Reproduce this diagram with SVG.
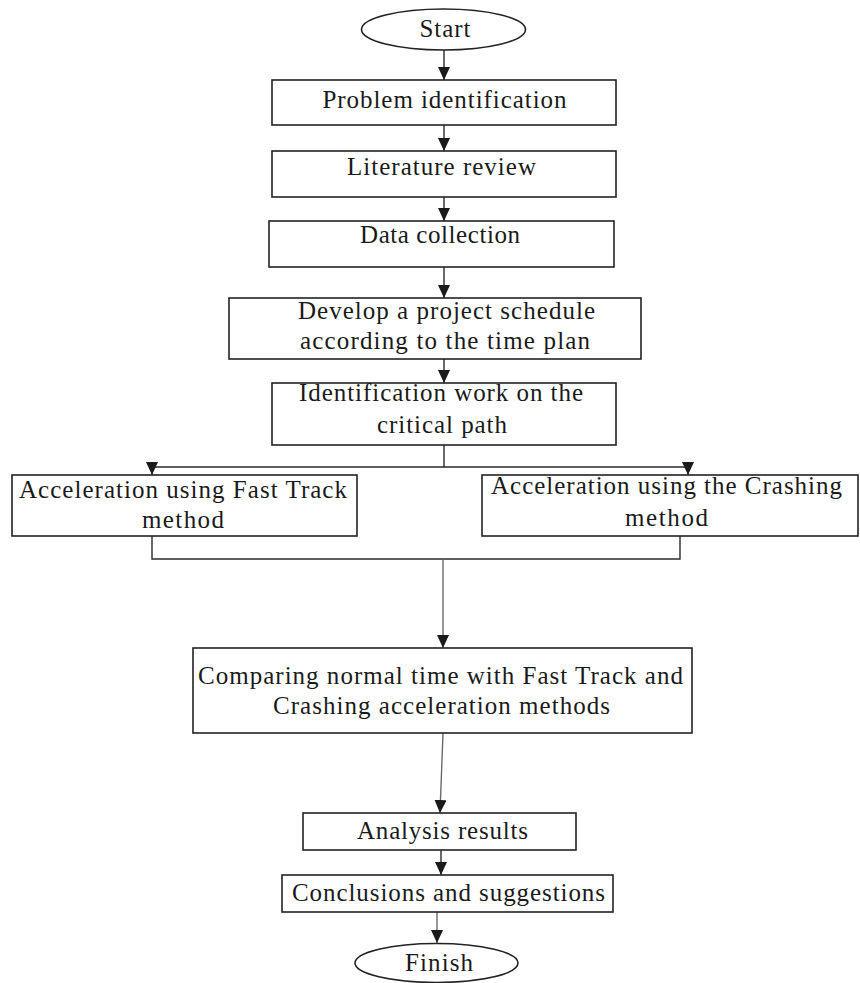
<svg xmlns="http://www.w3.org/2000/svg" width="860" height="983" viewBox="0 0 860 983">
<style>
.box{fill:#fff;stroke:#222;stroke-width:1.6}
.t{font-size:25px;fill:#1a1a1a;text-anchor:middle}
.c{fill:none;stroke:#2a2a2a;stroke-width:1.4}
.g{fill:none;stroke:#6a6a6a;stroke-width:1.4}
</style>
<defs>
<marker id="ah" viewBox="0 0 13 12" refX="13" refY="6" markerWidth="13" markerHeight="12" markerUnits="userSpaceOnUse" orient="auto">
<path d="M0,0 L13,6 L0,12 z" fill="#1a1a1a"/>
</marker>
</defs>
<rect width="860" height="983" fill="#fff"/>
<g id="connectors">
<line class="c" x1="444" y1="50" x2="444" y2="80" marker-end="url(#ah)"/>
<line class="c" x1="444" y1="125" x2="444" y2="151" marker-end="url(#ah)"/>
<line class="c" x1="444" y1="197" x2="444" y2="221" marker-end="url(#ah)"/>
<line class="c" x1="444" y1="267" x2="444" y2="298" marker-end="url(#ah)"/>
<line class="c" x1="444" y1="359" x2="444" y2="383" marker-end="url(#ah)"/>
<line class="c" x1="444" y1="445" x2="444" y2="467"/>
<line class="c" x1="152" y1="467" x2="688" y2="467"/>
<line class="c" x1="152" y1="467" x2="152" y2="475" marker-end="url(#ah)"/>
<line class="c" x1="688" y1="467" x2="688" y2="475" marker-end="url(#ah)"/>
<polyline class="c" points="152,536 152,559 680,559 680,536"/>
<line class="g" x1="443" y1="559" x2="443" y2="648" marker-end="url(#ah)"/>
<line class="g" x1="443" y1="733" x2="440" y2="813" marker-end="url(#ah)"/>
<line class="c" x1="441" y1="850" x2="441" y2="875" marker-end="url(#ah)"/>
<line class="g" x1="437" y1="912" x2="437" y2="943" marker-end="url(#ah)"/>
</g>
<g font-family="Liberation Serif, serif">
<g id="start">
<ellipse class="box" cx="443.5" cy="29.5" rx="82" ry="20.5"/>
<text class="t" x="445" y="37" textLength="51" lengthAdjust="spacing">Start</text>
</g>
<g id="problem">
<rect class="box" x="272" y="80" width="344" height="45"/>
<text class="t" x="444.5" y="108" textLength="244" lengthAdjust="spacing">Problem identification</text>
</g>
<g id="literature">
<rect class="box" x="272" y="151" width="344" height="46"/>
<text class="t" x="441.5" y="175" textLength="189" lengthAdjust="spacing">Literature review</text>
</g>
<g id="data">
<rect class="box" x="269" y="221" width="345" height="46"/>
<text class="t" x="440" y="243" textLength="160" lengthAdjust="spacing">Data collection</text>
</g>
<g id="develop">
<rect class="box" x="229" y="298" width="412" height="61"/>
<text class="t" x="446.5" y="319" textLength="297" lengthAdjust="spacing">Develop a project schedule</text>
<text class="t" x="445" y="349" textLength="290" lengthAdjust="spacing">according to the time plan</text>
</g>
<g id="identification">
<rect class="box" x="272" y="383" width="344" height="62"/>
<text class="t" x="441" y="401" textLength="284" lengthAdjust="spacing">Identification work on the</text>
<text class="t" x="442" y="433" textLength="130" lengthAdjust="spacing">critical path</text>
</g>
<g id="fasttrack">
<rect class="box" x="12" y="475" width="345" height="61"/>
<text class="t" x="183" y="498" textLength="328" lengthAdjust="spacing">Acceleration using Fast Track</text>
<text class="t" x="183" y="528" textLength="82" lengthAdjust="spacing">method</text>
</g>
<g id="crashing">
<rect class="box" x="482" y="475" width="376" height="61"/>
<text class="t" x="666.5" y="494" textLength="351" lengthAdjust="spacing">Acceleration using the Crashing</text>
<text class="t" x="666.5" y="526" textLength="83" lengthAdjust="spacing">method</text>
</g>
<g id="comparing">
<rect class="box" x="193" y="648" width="499" height="85"/>
<text class="t" x="440.5" y="684" textLength="485" lengthAdjust="spacing">Comparing normal time with Fast Track and</text>
<text class="t" x="441.5" y="714" textLength="337" lengthAdjust="spacing">Crashing acceleration methods</text>
</g>
<g id="analysis">
<rect class="box" x="303" y="813" width="273" height="37"/>
<text class="t" x="442.5" y="839" textLength="171" lengthAdjust="spacing">Analysis results</text>
</g>
<g id="conclusions">
<rect class="box" x="282" y="875" width="331" height="37"/>
<text class="t" x="448.5" y="901" textLength="313" lengthAdjust="spacing">Conclusions and suggestions</text>
</g>
<g id="finish">
<ellipse class="box" cx="436.5" cy="963" rx="81.5" ry="19.5"/>
<text class="t" x="439" y="971" textLength="68" lengthAdjust="spacing">Finish</text>
</g>
</g>
</svg>
